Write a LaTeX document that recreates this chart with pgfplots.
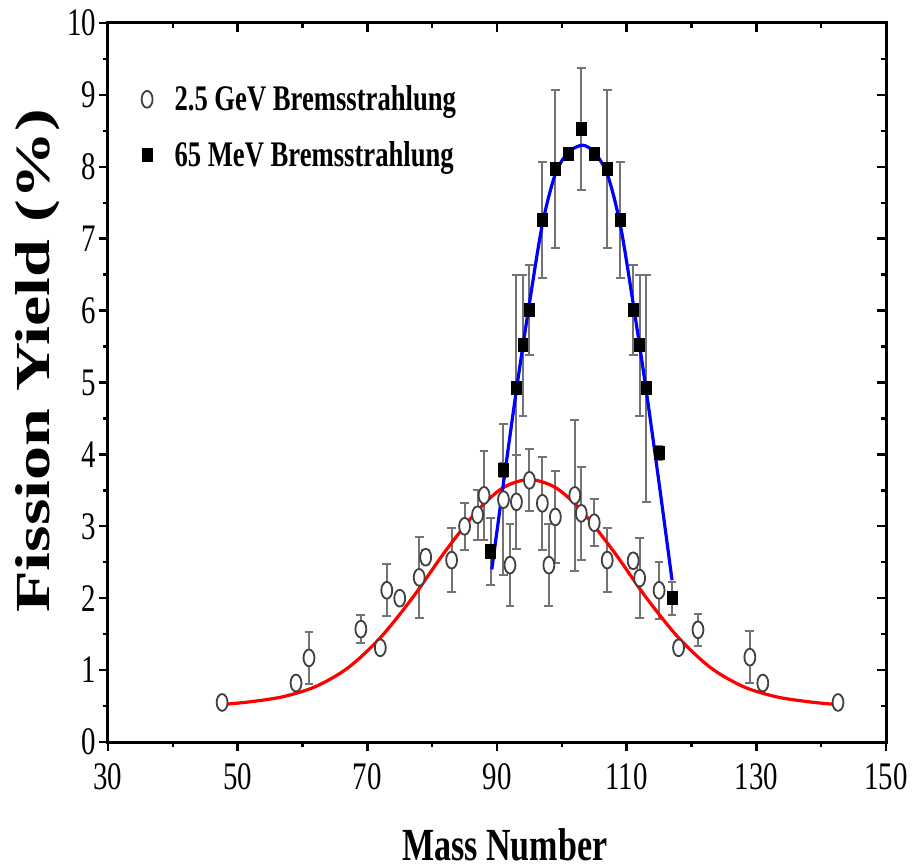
\documentclass[border=0pt]{standalone}
\usepackage{fontspec}
\setmainfont{Liberation Serif}[FakeStretch=0.74]
\newfontfamily\ylfont{Liberation Serif}
\usepackage{graphicx}
\usepackage{pgfplots}
\pgfplotsset{compat=1.18}
\usepackage{pgfplotstable}

\pgfplotstableread{
A Y e
47.6 0.55 0.05
59 0.82 0.06
61 1.17 0.36
69 1.57 0.20
72 1.31 0.06
73 2.11 0.36
75 2.00 0.06
78 2.29 0.56
79 2.57 0.10
83 2.53 0.45
85 3.00 0.33
87 3.16 0.35
88 3.43 0.62
91 3.37 1.05
92 2.46 0.57
93 3.34 0.65
95 3.64 0.43
97 3.32 0.65
98 2.46 0.57
99 3.13 0.64
102 3.43 1.05
103 3.18 0.65
105 3.05 0.33
107 2.53 0.45
111 2.52 0.10
112 2.28 0.56
115 2.11 0.40
118 1.31 0.06
121 1.56 0.22
129 1.18 0.36
131 0.82 0.06
142.6 0.55 0.05
}\gev

\pgfplotstableread{
A Y e
89 2.65 0.47
91 3.78 0.10
93 4.92 1.58
94 5.52 0.98
95 6.01 0.63
97 7.26 0.80
99 7.97 1.10
101 8.18 0.05
103 8.53 0.85
105 8.18 0.05
107 7.97 1.10
109 7.26 0.80
111 6.01 0.63
112 5.52 0.98
113 4.92 1.58
115 4.02 0.10
117 2.00 0.23
}\mev

\pgfplotstableread{
A Y
47.5 0.52
52 0.56
57 0.63
62 0.77
67 1.03
72 1.45
77 2.01
82 2.65
87 3.22
91 3.54
95 3.65
99 3.54
103 3.22
108 2.65
113 2.01
118 1.45
123 1.03
128 0.77
133 0.63
138 0.56
142.5 0.52
}\gevfit

\pgfplotstableread{
A Y
89.2 2.40
91 3.60
93 4.90
95 6.10
97 7.20
99 7.90
101 8.20
103.2 8.30
105 8.20
107 7.90
109 7.20
111 6.10
113 4.90
115 3.60
117 2.25
}\mevfit

\pgfplotsset{myax/.style={
  scale only axis, width=389pt, height=359.5pt,
  xmin=30, xmax=150, ymin=0, ymax=10,
  xtick={30,50,...,150}, ytick={0,1,...,10},
  minor x tick num=1, minor y tick num=1,
  axis line style={line width=1.5pt},
  major tick length=4.5pt, minor tick length=2.5pt,
  tick style={black, line width=1.2pt},
  /pgf/number format/assume math mode=true,
  ticklabel style={font=\fontsize{19.5}{21}\selectfont},
}}

\begin{document}
\begin{tikzpicture}
\begin{axis}[myax, tick pos=right, tick align=inside, xticklabels={}, yticklabels={}]
\end{axis}
\begin{axis}[myax, tick pos=left, tick align=outside,
  yticklabel style={xshift=2pt},
  xticklabel style={yshift=-2.5pt},
  xlabel={\bfseries Mass Number},
  xlabel style={font=\fontsize{23}{26}\selectfont, at={(axis description cs:0.51,-0.143)}, anchor=center},
  ylabel={\scalebox{1}[0.72]{\ylfont\bfseries\fontsize{34}{38}\selectfont Fission Yield (\%)}},
  ylabel style={at={(axis description cs:-0.09,0.53)}, anchor=center, rotate=0},
  legend style={at={(axis description cs:0.035,0.925)}, anchor=north west, draw=none, fill=none,
    font=\bfseries\fontsize{18}{20}\selectfont, row sep=10pt},
  legend cell align=left,
]
\coordinate (sw) at (rel axis cs:0,0);
\coordinate (ne) at (rel axis cs:1,1);
\addplot[only marks, mark=*, mark size=4.2pt,
  mark options={xscale=0.65, line width=0.9pt, draw=black!75, fill=white},
  error bars/.cd, y dir=both, y explicit,
  error bar style={black!55, line width=1pt},
  error mark options={rotate=90, mark size=2.2pt, line width=1pt, black!55}]
  table[x=A, y=Y, y error=e] {\gev};
\addlegendentry{\hspace*{9pt}2.5 GeV Bremsstrahlung}
\addplot[only marks, mark=square*, mark size=3.3pt,
  mark options={xscale=0.75, draw=black, fill=black},
  error bars/.cd, y dir=both, y explicit,
  error bar style={black!55, line width=1pt},
  error mark options={rotate=90, mark size=2.2pt, line width=1pt, black!55}]
  table[x=A, y=Y, y error=e] {\mev};
\addlegendentry{\hspace*{9pt}65 MeV Bremsstrahlung}
\addplot[red, line width=1.6pt, smooth, forget plot] table[x=A, y=Y] {\gevfit};
\addplot[blue, line width=1.6pt, smooth, forget plot] table[x=A, y=Y] {\mevfit};
\end{axis}
\path (sw) ++(-54pt,-61.5pt) coordinate (bl);
\path (ne) ++(17pt,11.5pt) coordinate (tr);
\path (bl) rectangle (tr);
\end{tikzpicture}
\end{document}
